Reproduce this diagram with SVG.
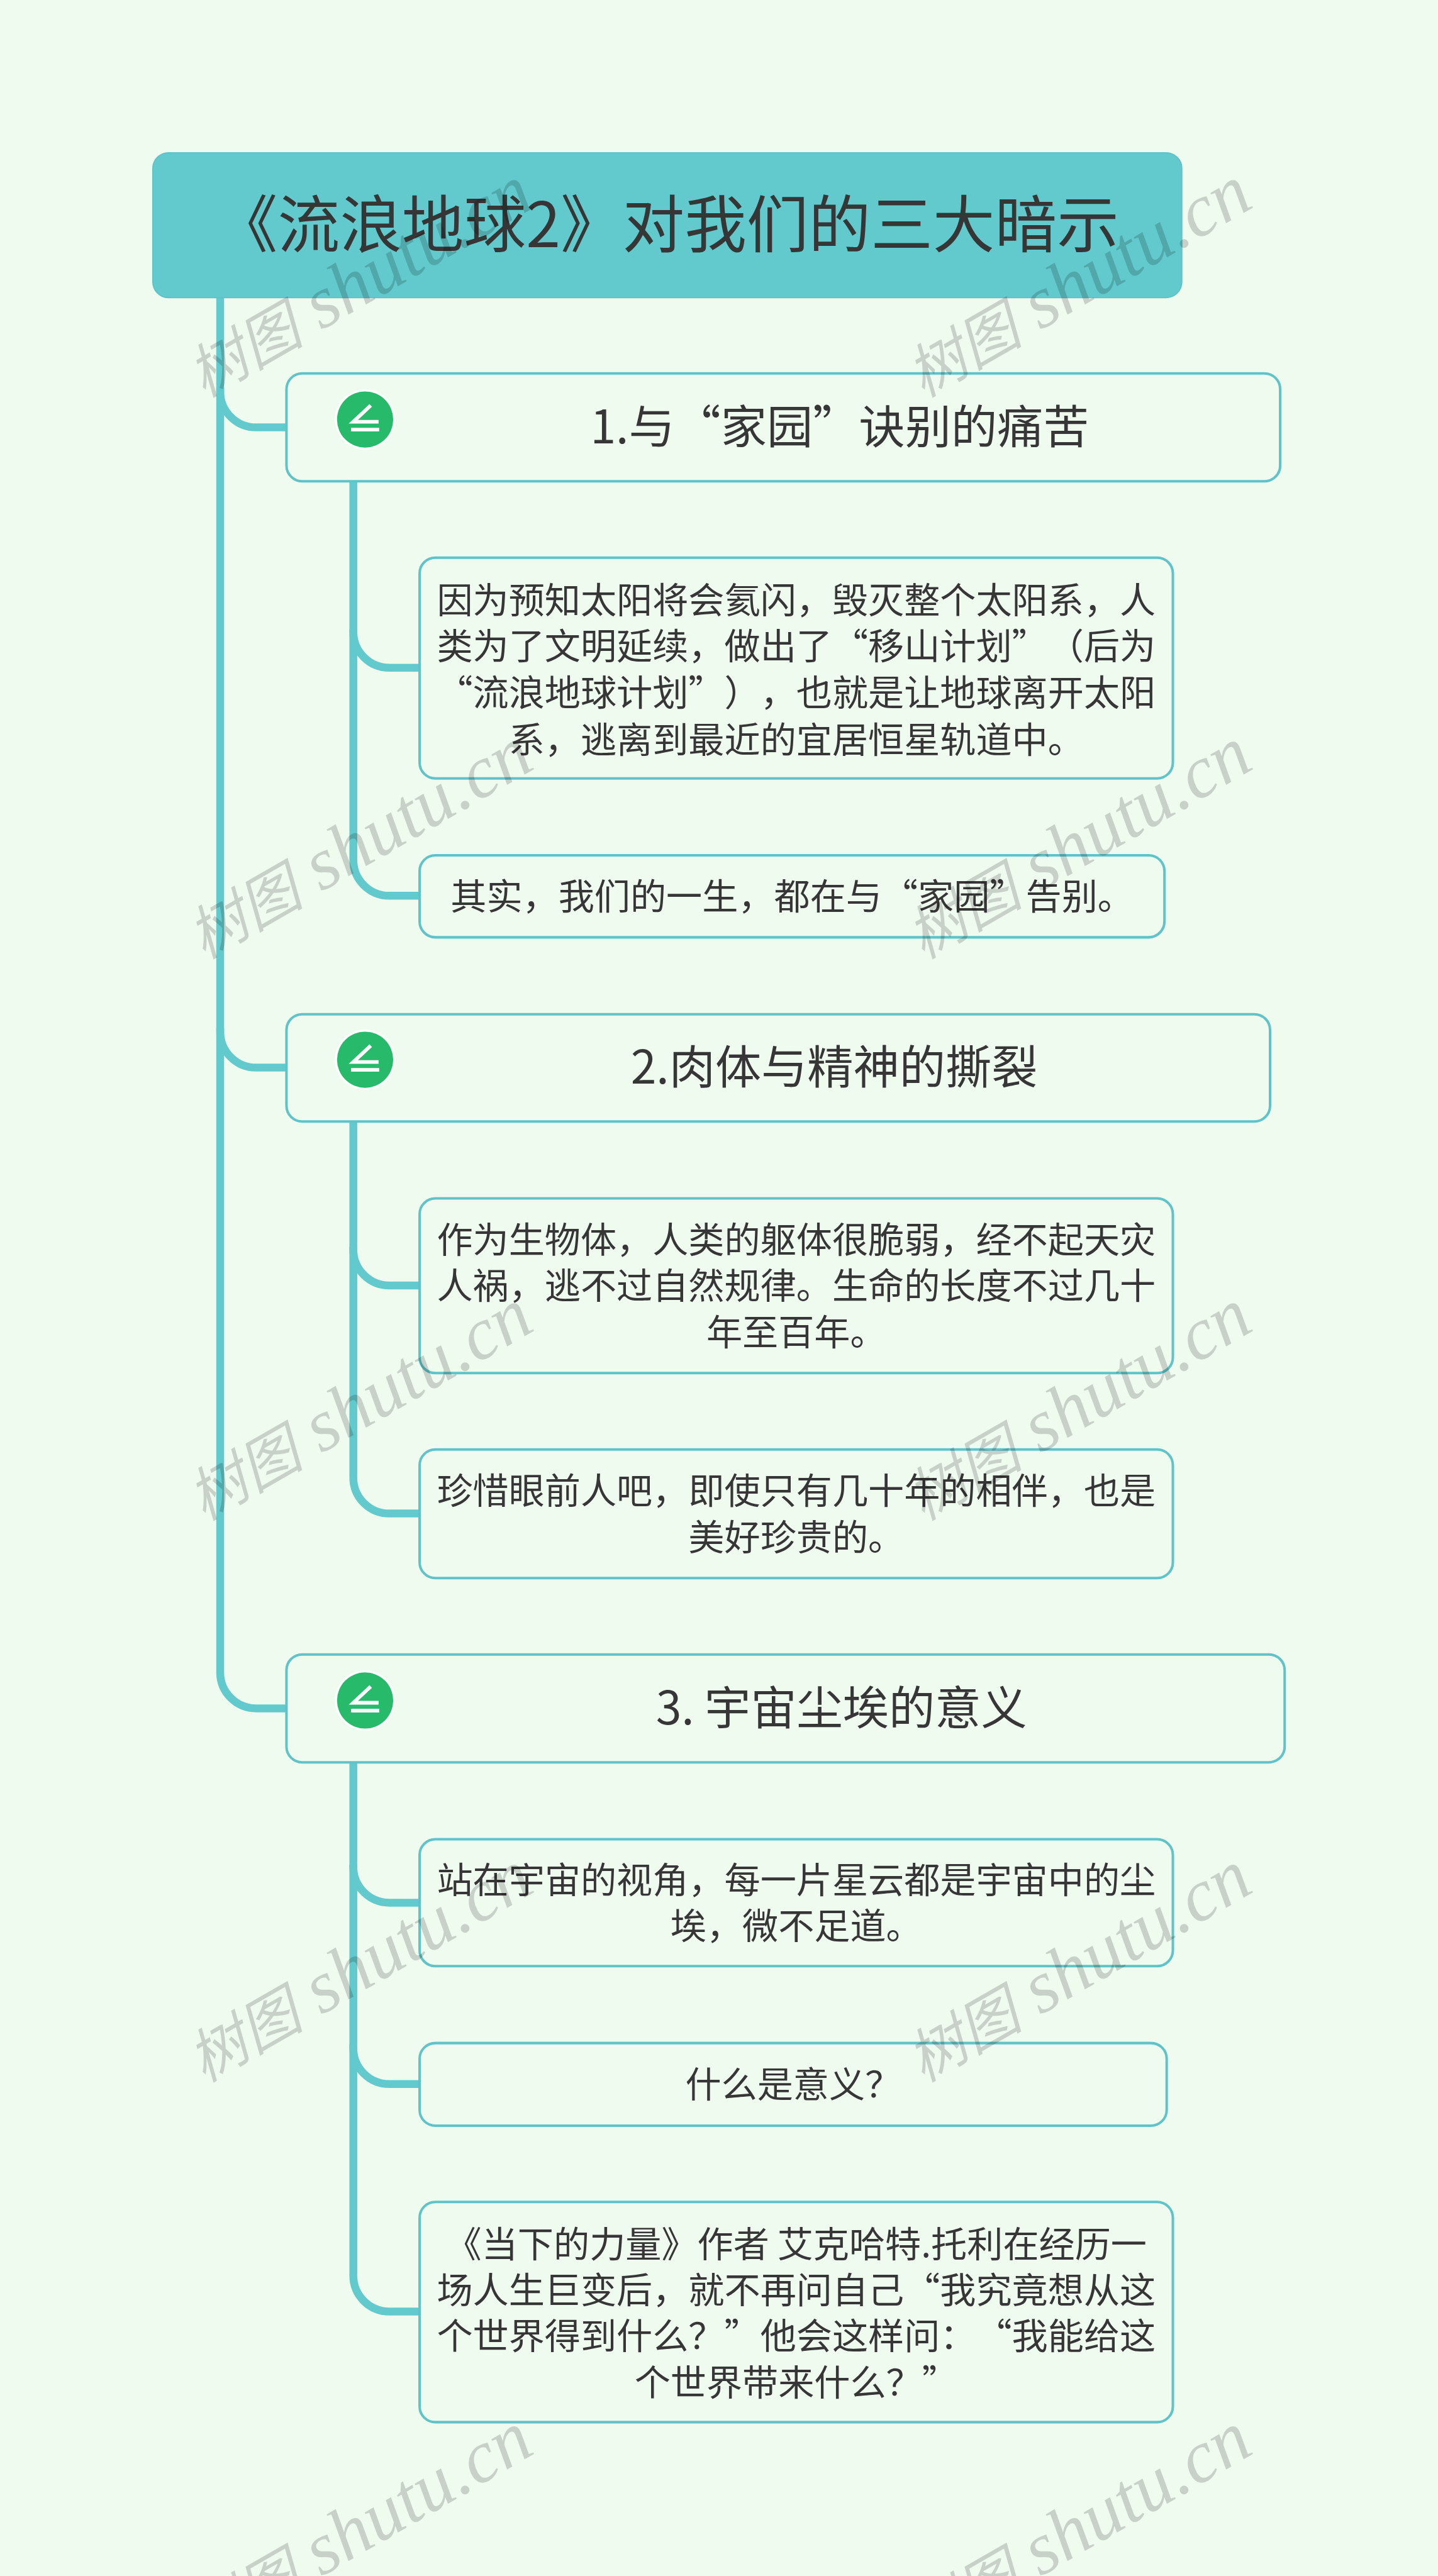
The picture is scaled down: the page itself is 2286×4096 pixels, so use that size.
<svg xmlns="http://www.w3.org/2000/svg" width="2286" height="4096" viewBox="0 0 2286 4096">
<style>
text{font-family:"Noto Sans CJK SC","Noto Sans",sans-serif;fill:#363636;text-anchor:middle;text-spacing-trim:space-all}
.root{fill:#62cacd;stroke:#5cc2c6;stroke-width:2}
.box{fill:#f0fbf0;stroke:#5fc3c8;stroke-width:4.5}
.t0{font-size:110.5px}
.t1{font-size:82px}
.t2{font-size:64px}
.conn{fill:none;stroke:#62cacd;stroke-width:14}
.halo{fill:#fff;opacity:.75}
.disc{fill:#27ba6b}
.glyph{fill:none;stroke:#fff;stroke-width:6.5}
.wm{font-family:"Liberation Serif","Noto Sans CJK SC",serif;font-style:italic;font-size:132px;fill:#000;fill-opacity:.165;text-anchor:start}
.wm tspan{font-size:104px}
</style>
<defs>
<g id="icon"><circle class="halo" r="54"/><circle class="disc" r="50"/><path class="glyph" d="M10 -25L-21 4H24M-25 18H25"/></g>
</defs>
<rect width="2286" height="4096" fill="#f0fbf0"/>
<g transform="scale(0.89297)">
<g id="connectors">
<path class="conn" d="M392 530V697A64 64 0 0 0 456 761H511"/>
<path class="conn" d="M392 690V1837A64 64 0 0 0 456 1901H511"/>
<path class="conn" d="M392 1830V2978A64 64 0 0 0 456 3042H511"/>
<path class="conn" d="M629 858V1125A64 64 0 0 0 693 1189H749"/>
<path class="conn" d="M629 1120V1531A64 64 0 0 0 693 1595H749"/>
<path class="conn" d="M629 1998V2225A64 64 0 0 0 693 2289H749"/>
<path class="conn" d="M629 2220V2631A64 64 0 0 0 693 2695H749"/>
<path class="conn" d="M629 3139V3324A64 64 0 0 0 693 3388H749"/>
<path class="conn" d="M629 3320V3647A64 64 0 0 0 693 3711H749"/>
<path class="conn" d="M629 3640V4052A64 64 0 0 0 693 4116H749"/>
</g>
<g id="root"><rect class="root" x="272" y="272" width="1832" height="258" rx="28"/><text class="t0" x="1188" y="440">《流浪地球2》对我们的三大暗示</text></g>
<g id="n1"><rect class="box" x="510" y="665" width="1769" height="192" rx="28"/><use href="#icon" x="650" y="747"/><text class="t1" x="1495" y="790">1.与“家园”诀别的痛苦</text></g>
<g id="n1a"><rect class="box" x="747" y="993" width="1341" height="393" rx="28"/>
<text class="t2" x="1417.5" y="1092">因为预知太阳将会氦闪，毁灭整个太阳系，人</text>
<text class="t2" x="1417.5" y="1174">类为了文明延续，做出了“移山计划”（后为</text>
<text class="t2" x="1417.5" y="1257">“流浪地球计划”），也就是让地球离开太阳</text>
<text class="t2" x="1417.5" y="1340">系，逃离到最近的宜居恒星轨道中。</text></g>
<g id="n1b"><rect class="box" x="747" y="1523" width="1326" height="146" rx="28"/><text class="t2" x="1410" y="1619">其实，我们的一生，都在与“家园”告别。</text></g>
<g id="n2"><rect class="box" x="510" y="1806" width="1751" height="191" rx="28"/><use href="#icon" x="650" y="1887"/><text class="t1" x="1485" y="1930">2.肉体与精神的撕裂</text></g>
<g id="n2a"><rect class="box" x="747" y="2134" width="1341" height="311" rx="28"/>
<text class="t2" x="1417.5" y="2231">作为生物体，人类的躯体很脆弱，经不起天灾</text>
<text class="t2" x="1417.5" y="2313">人祸，逃不过自然规律。生命的长度不过几十</text>
<text class="t2" x="1417.5" y="2395">年至百年。</text></g>
<g id="n2b"><rect class="box" x="747" y="2581" width="1341" height="229" rx="28"/>
<text class="t2" x="1417.5" y="2678">珍惜眼前人吧，即使只有几十年的相伴，也是</text>
<text class="t2" x="1417.5" y="2760">美好珍贵的。</text></g>
<g id="n3"><rect class="box" x="510" y="2946" width="1777" height="192" rx="28"/><use href="#icon" x="650" y="3028"/><text class="t1" x="1498" y="3071">3. 宇宙尘埃的意义</text></g>
<g id="n3a"><rect class="box" x="747" y="3275" width="1341" height="226" rx="28"/>
<text class="t2" x="1417.5" y="3371">站在宇宙的视角，每一片星云都是宇宙中的尘</text>
<text class="t2" x="1417.5" y="3453">埃，微不足道。</text></g>
<g id="n3b"><rect class="box" x="747" y="3638" width="1330" height="147" rx="28"/><text class="t2" x="1412" y="3735">什么是意义？</text></g>
<g id="n3c"><rect class="box" x="747" y="3921" width="1341" height="392" rx="28"/>
<text class="t2" x="1417.5" y="4019">《当下的力量》作者 艾克哈特.托利在经历一</text>
<text class="t2" x="1417.5" y="4101">场人生巨变后，就不再问自己“我究竟想从这</text>
<text class="t2" x="1417.5" y="4183">个世界得到什么？”他会这样问：“我能给这</text>
<text class="t2" x="1417.5" y="4265">个世界带来什么？”</text></g>
<g id="watermarks">
<text class="wm" transform="translate(363 709) rotate(-30)"><tspan>树图</tspan> shutu.cn</text>
<text class="wm" transform="translate(1643 709) rotate(-30)"><tspan>树图</tspan> shutu.cn</text>
<text class="wm" transform="translate(363 1709) rotate(-30)"><tspan>树图</tspan> shutu.cn</text>
<text class="wm" transform="translate(1643 1709) rotate(-30)"><tspan>树图</tspan> shutu.cn</text>
<text class="wm" transform="translate(363 2709) rotate(-30)"><tspan>树图</tspan> shutu.cn</text>
<text class="wm" transform="translate(1643 2709) rotate(-30)"><tspan>树图</tspan> shutu.cn</text>
<text class="wm" transform="translate(363 3709) rotate(-30)"><tspan>树图</tspan> shutu.cn</text>
<text class="wm" transform="translate(1643 3709) rotate(-30)"><tspan>树图</tspan> shutu.cn</text>
<text class="wm" transform="translate(363 4709) rotate(-30)"><tspan>树图</tspan> shutu.cn</text>
<text class="wm" transform="translate(1643 4709) rotate(-30)"><tspan>树图</tspan> shutu.cn</text>
</g>
</g>
</svg>
